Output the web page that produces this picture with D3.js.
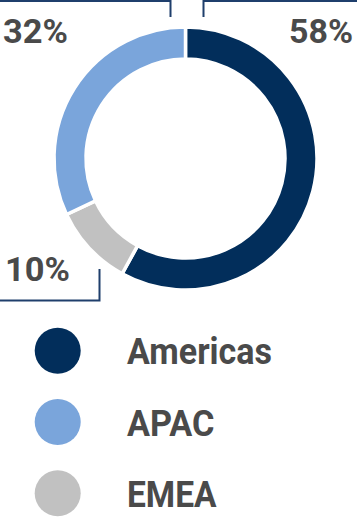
<!DOCTYPE html>
<html><head><meta charset="utf-8">
<script src="https://cdn.jsdelivr.net/npm/d3@7"></script>
<style>html,body{margin:0;padding:0;background:#fff;}svg{display:block;}</style>
</head><body>
<svg id="chart" width="357" height="519"></svg>
<script>
const categories = ["Americas", "EMEA", "APAC"];
const values = [58, 10, 32];
const colors = ["#022e5b", "#c1c1c1", "#7aa5db"];
const legendOrder = ["Americas", "APAC", "EMEA"];
const labelText = ["58%", "10%", "32%"];

const svg = d3.select("#chart");
const cx = 185.5, cy = 158.5, rOuter = 131.5, rInner = 99.5;
const color = d3.scaleOrdinal().domain(categories).range(colors);

const pie = d3.pie().sort(null).value(d => d.value);
const arcs = pie(categories.map((c, i) => ({cat: c, value: values[i]})));
const arc = d3.arc().innerRadius(rInner).outerRadius(rOuter);

const g = svg.append("g").attr("transform", `translate(${cx},${cy})`);
g.selectAll("path").data(arcs).join("path")
  .attr("d", arc)
  .attr("fill", d => color(d.data.cat))
  .attr("stroke", "#fff").attr("stroke-width", 3.5);

// leader lines
const lineColor = "#1f3f6c";
const lines = [
  [[203.5, 17], [203.5, 1], [357, 1]],
  [[170.5, 17], [170.5, 1], [0, 1]],
  [[99.5, 269], [99.5, 300.5], [0, 300.5]]
];
svg.selectAll("path.leader").data(lines).join("path")
  .attr("class", "leader")
  .attr("d", d3.line())
  .attr("fill", "none").attr("stroke", lineColor).attr("stroke-width", 2);

const textColor = "#4a4a4a";
const font = "Roboto, 'DejaVu Sans', sans-serif";
const labels = [
  {t: labelText[0], x: 353, y: 43, anchor: "end", w: 64},
  {t: labelText[1], x: 5, y: 280.5, anchor: "start", w: 65},
  {t: labelText[2], x: 3, y: 43, anchor: "start", w: 65}
];
svg.selectAll("text.lbl").data(labels).join("text")
  .attr("class", "lbl")
  .attr("x", d => d.x).attr("y", d => d.y)
  .attr("text-anchor", d => d.anchor)
  .attr("textLength", d => d.w).attr("lengthAdjust", "spacingAndGlyphs")
  .attr("font-family", font).attr("font-weight", 700).attr("font-size", 34)
  .attr("fill", textColor).text(d => d.t);

const legendY = d3.scalePoint().domain(legendOrder).range([350.7, 493.3]);
const legendW = {"Americas": 145, "APAC": 87.5, "EMEA": 89.5};
const lg = svg.selectAll("g.leg").data(legendOrder).join("g")
  .attr("class", "leg")
  .attr("transform", d => `translate(0,${legendY(d)})`);
lg.append("circle").attr("cx", 57.7).attr("cy", 0).attr("r", 23).attr("fill", d => color(d));
lg.append("text").attr("x", 127).attr("y", 13.5)
  .attr("textLength", d => legendW[d]).attr("lengthAdjust", "spacingAndGlyphs")
  .attr("font-family", font).attr("font-weight", 700).attr("font-size", 36.5)
  .attr("fill", textColor).text(d => d);
</script>
</body></html>
